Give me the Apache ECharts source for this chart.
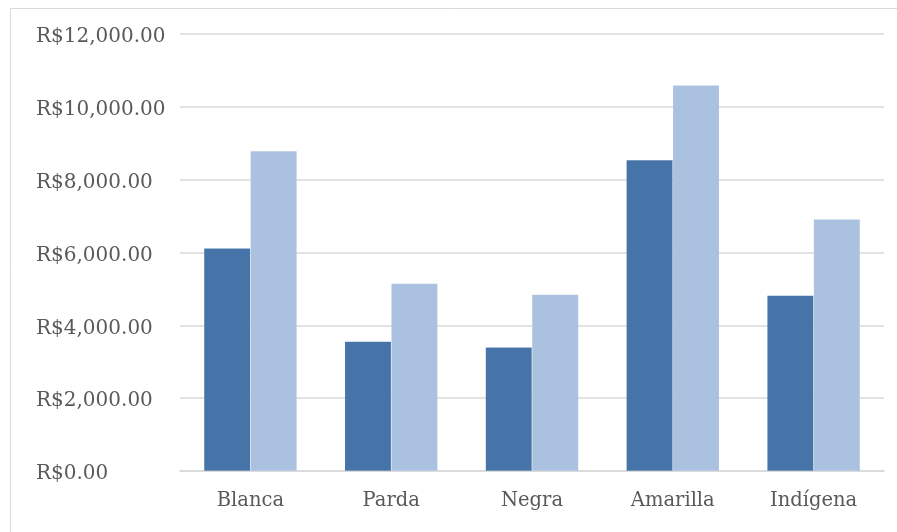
<!DOCTYPE html>
<html>
<head>
<meta charset="utf-8">
<script src="https://cdn.jsdelivr.net/npm/echarts@6/dist/echarts.min.js"></script>
<style>
html,body{margin:0;padding:0;background:#fff;}
#chart{width:897px;height:532px;}
</style>
</head>
<body>
<div id="chart"></div>
<script>
const categories = ['Blanca', 'Parda', 'Negra', 'Amarilla', 'Indígena'];
const seriesDark = [6120, 3556, 3400, 8540, 4820];
const seriesLight = [8785, 5150, 4850, 10590, 6910];
const yMin = 0, yMax = 12000, yInterval = 2000;

function fmtBRL(v) {
  const fixed = Number(v).toFixed(2);
  const parts = fixed.split('.');
  parts[0] = parts[0].replace(/\B(?=(\d{3})+(?!\d))/g, ',');
  return 'R$' + parts.join('.');
}

const FONT = 'DejaVu Serif';
const chart = echarts.init(document.getElementById('chart'), null, {renderer: 'canvas'});
chart.setOption({
  animation: false,
  backgroundColor: '#ffffff',
  graphic: [{
    type: 'rect',
    shape: {x: 10.5, y: 8.5, width: 1000, height: 700},
    style: {fill: 'none', stroke: '#D9D9D9', lineWidth: 1},
    silent: true,
    z: -10
  }],
  grid: {left: 180, right: 13, top: 34, bottom: 61, containLabel: false},
  xAxis: {
    type: 'category',
    data: categories,
    axisLine: {show: true, lineStyle: {color: '#D9D9D9', width: 1.5}},
    axisTick: {show: false},
    axisLabel: {color: '#595959', fontFamily: FONT, fontSize: 19.5, margin: 20}
  },
  yAxis: {
    type: 'value',
    min: yMin, max: yMax, interval: yInterval,
    axisLine: {show: false},
    axisTick: {show: false},
    splitLine: {lineStyle: {color: '#D9D9D9', width: 1.5}},
    axisLabel: {
      color: '#595959', fontFamily: FONT, fontSize: 20,
      align: 'left', margin: 144,
      verticalAlign: 'top', lineHeight: 6,
      formatter: fmtBRL
    }
  },
  series: [
    {
      name: 'Serie 1', type: 'bar', data: seriesDark,
      barGap: '0%', barCategoryGap: '34%',
      itemStyle: {color: '#4674A9', borderColor: 'rgba(255,255,255,0.15)', borderWidth: 0.5}
    },
    {
      name: 'Serie 2', type: 'bar', data: seriesLight,
      barGap: '0%', barCategoryGap: '34%',
      itemStyle: {color: '#AAC1E0', borderColor: 'rgba(255,255,255,0.15)', borderWidth: 0.5}
    }
  ]
});
</script>
</body>
</html>
